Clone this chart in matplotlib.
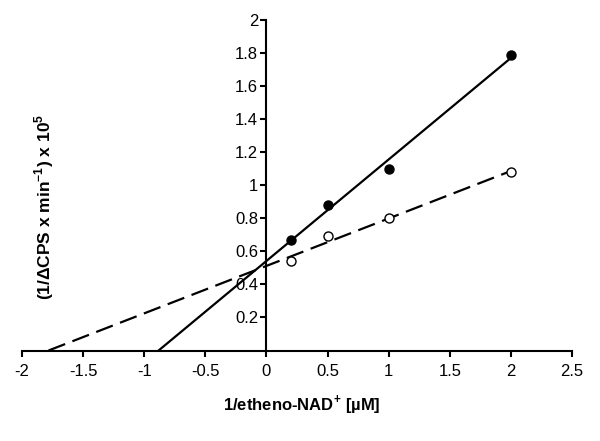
import numpy as np
import matplotlib
matplotlib.use('Agg')
import matplotlib.pyplot as plt

plt.rcParams['font.family'] = ['Liberation Sans', 'DejaVu Sans']
plt.rcParams['mathtext.fontset'] = 'custom'
plt.rcParams['mathtext.rm'] = 'Liberation Sans'
plt.rcParams['mathtext.bf'] = 'Liberation Sans:bold'

# data
x_pts = [0.2, 0.5, 1.0, 2.0]
y_filled = [0.67, 0.88, 1.10, 1.79]
y_open = [0.54, 0.69, 0.80, 1.08]

x_ticks = [-2, -1.5, -1, -0.5, 0, 0.5, 1, 1.5, 2, 2.5]
y_ticks = [0.2, 0.4, 0.6, 0.8, 1, 1.2, 1.4, 1.6, 1.8, 2]

fig = plt.figure(figsize=(6, 4.41), dpi=100)
ax = fig.add_axes([22/600, 1 - 350.5/441, 550/600, 330.5/441])

# linear fits (Lineweaver-Burk), drawn from x-intercept to last point
for y, ls in [(y_filled, '-'), (y_open, '--')]:
    m, b = np.polyfit(x_pts, y, 1)
    xl = np.array([-b/m, max(x_pts)])
    line, = ax.plot(xl, m*xl + b, color='black', lw=1.6, ls=ls, zorder=2)
    if ls == '--':
        line.set_dashes((8, 3.5))

ax.plot(x_pts, y_filled, 'o', color='black', ms=6.5, zorder=3)
ax.plot(x_pts, y_open, 'o', mfc='white', mec='black', mew=1, ms=6.5, zorder=3)

ax.set_xlim(-2, 2.5)
ax.set_ylim(0, 2)
ax.spines['left'].set_position(('data', 0))
ax.spines['right'].set_color('none')
ax.spines['top'].set_color('none')
ax.spines['left'].set_linewidth(1.5)
ax.spines['bottom'].set_linewidth(1.5)
ax.set_xticks(x_ticks)
ax.set_xticklabels([f'{t:g}' for t in x_ticks])
ax.set_yticks(y_ticks)
ax.set_yticklabels([f'{t:g}' for t in y_ticks])
ax.tick_params(axis='both', direction='out', length=4, width=1.5, labelsize=12)
ax.tick_params(axis='x', pad=6)
ax.tick_params(axis='y', pad=2)

fig.text(302/600, 1 - 405/441, r'1/etheno-NAD$^{\mathbf{+}}$ [µM]',
         ha='center', va='center', fontsize=12, fontweight='bold')
fig.text(44/600, 1 - 207/441, r'(1/ΔCPS x min$^{\mathbf{-1}}$) x 10$^{\mathbf{5}}$',
         ha='center', va='center', rotation=90, fontsize=12.5, fontweight='bold')

fig.savefig('out.png', dpi=100)
